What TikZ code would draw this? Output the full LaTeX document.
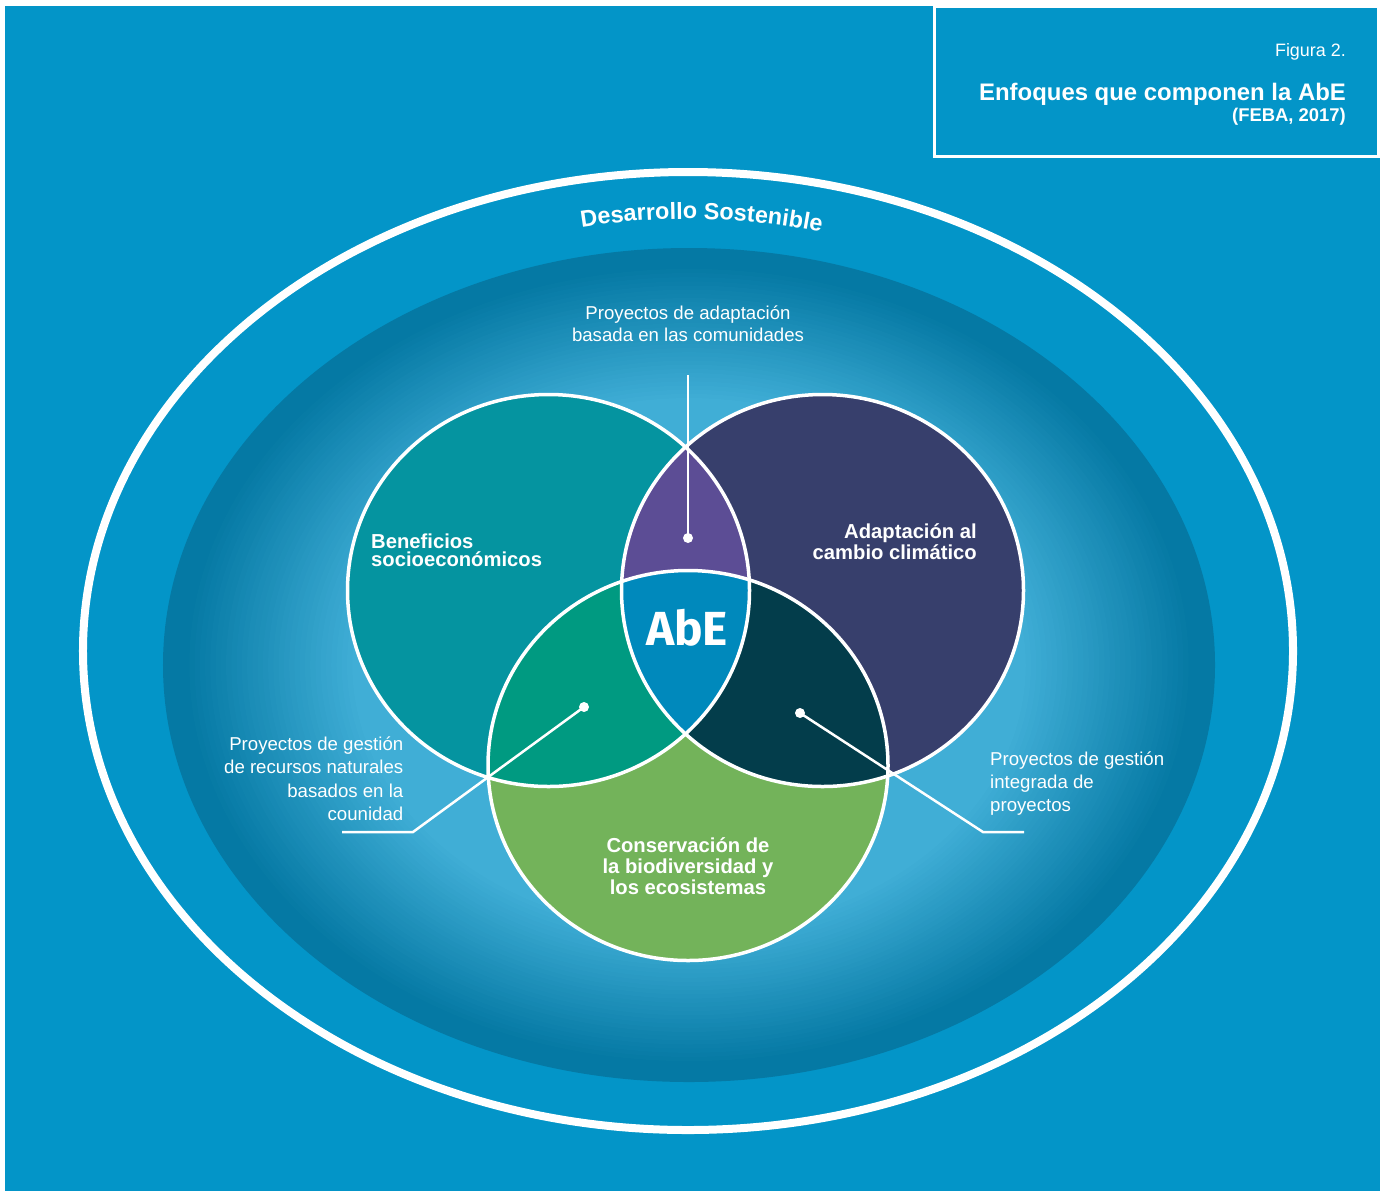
\documentclass[tikz,border=0pt]{standalone}
\usepackage{fontspec}
\setmainfont{Liberation Sans}
\newfontfamily\abefont{Fira Sans}
\usetikzlibrary{decorations.text}
\definecolor{bgblue}{RGB}{3,149,200}
\definecolor{darkring}{RGB}{5,121,164}
\definecolor{lightring}{RGB}{64,174,214}
\definecolor{socioC}{RGB}{5,148,160}
\definecolor{climaC}{RGB}{55,63,108}
\definecolor{bioC}{RGB}{115,179,90}
\definecolor{scC}{RGB}{92,77,149}
\definecolor{sbC}{RGB}{0,154,129}
\definecolor{cbC}{RGB}{3,61,75}
\definecolor{abeC}{RGB}{0,137,188}
\newcommand\fsz[2]{\fontsize{#1}{#2}\selectfont}
\newcommand\mlc[1]{\vtop{\lineskiplimit=-100pt\halign{\hfil##\hfil\cr#1\crcr}}}
\newcommand\mlr[1]{\vtop{\lineskiplimit=-100pt\halign{\hfil##\cr#1\crcr}}}
\newcommand\mll[1]{\vtop{\lineskiplimit=-100pt\halign{##\hfil\cr#1\crcr}}}
\begin{document}
\begin{tikzpicture}[x=1bp,y=-1bp,
  lbl/.style={text=white, inner sep=0pt},
  leader/.style={draw=white, line width=2.5bp},
  vennedge/.style={draw=white, line width=3.5bp},
  dotmark/.style={fill=white}]
\useasboundingbox (0,0) rectangle (1387,1191);
\fill[white] (0,0) rectangle (1387,1191);
\fill[bgblue] (5,6) rectangle (1380,1191);
% title box
\node[draw=white, line width=3bp, minimum width=444bp, minimum height=150bp, inner sep=0pt] (titlebox) at (1156,81) {};
\node[lbl, anchor=base east, font=\fsz{18}{18}] (fig) at (1346,56) {Figura 2.};
\node[lbl, anchor=base east, font=\bfseries\fsz{24}{24}] (title) at (1346,100) {Enfoques que componen la AbE};
\node[lbl, anchor=base east, font=\bfseries\fsz{18.5}{18.5}] (cite) at (1346,121.5) {(FEBA, 2017)};
% graded inner ellipse
\foreach \k in {0,...,45}{
  \pgfmathsetmacro\f{1-0.01*\k}
  \pgfmathtruncatemacro\p{max(0,min(100,(\k-4)*100/32))}
  \pgfmathsetmacro\rx{526*\f}
  \pgfmathsetmacro\ry{417*\f}
  \fill[lightring!\p!darkring] (689,665) ellipse[x radius=\rx bp, y radius=\ry bp];
}
% outer white ellipse
\draw[white, line width=8bp] (688,651) ellipse[x radius=605bp, y radius=479bp];
% curved title
\path[decorate, decoration={text along path, text color=white, text align=center,
   text={|\bfseries\fsz{23.5}{23.5}|Desarrollo Sostenible}}]
   (688,651) ++(120:545bp and 432bp) arc[start angle=120, end angle=57, x radius=545bp, y radius=432bp];
% venn
\coordinate (cL) at (548.5,590.5);
\coordinate (cR) at (822.5,590.5);
\coordinate (cB) at (688,765.5);
\fill[socioC] (cL) ellipse[x radius=201bp, y radius=196bp];
\fill[climaC] (cR) ellipse[x radius=201bp, y radius=196bp];
\fill[bioC] (cB) ellipse[x radius=200bp, y radius=195bp];
\begin{scope}
  \clip (cL) ellipse[x radius=201bp, y radius=196bp];
  \fill[scC] (cR) ellipse[x radius=201bp, y radius=196bp];
  \fill[sbC] (cB) ellipse[x radius=200bp, y radius=195bp];
\end{scope}
\begin{scope}
  \clip (cR) ellipse[x radius=201bp, y radius=196bp];
  \fill[cbC] (cB) ellipse[x radius=200bp, y radius=195bp];
\end{scope}
\begin{scope}
  \clip (cL) ellipse[x radius=201bp, y radius=196bp];
  \clip (cR) ellipse[x radius=201bp, y radius=196bp];
  \fill[abeC] (cB) ellipse[x radius=200bp, y radius=195bp];
\end{scope}
\draw[vennedge] (cL) ellipse[x radius=201bp, y radius=196bp];
\draw[vennedge] (cR) ellipse[x radius=201bp, y radius=196bp];
\draw[vennedge] (cB) ellipse[x radius=200bp, y radius=195bp];
% leaders
\coordinate (topEnd) at (688,375);
\coordinate (dotT) at (688,538);
\coordinate (dotL) at (584,707);
\coordinate (bendL) at (413,832);
\coordinate (endL) at (342,832);
\coordinate (dotR) at (800,713);
\coordinate (bendR) at (983,832);
\coordinate (endR) at (1024,832);
\draw[leader] (topEnd) -- (dotT);
\draw[leader] (dotL) -- (bendL) -- (endL);
\draw[leader] (dotR) -- (bendR) -- (endR);
\fill[dotmark] (dotT) circle[radius=5bp];
\fill[dotmark] (dotL) circle[radius=5bp];
\fill[dotmark] (dotR) circle[radius=5bp];
% labels
\node[lbl, anchor=base, font=\fsz{18.7}{22.5}] (lblTop) at (688,319.5) {\mlc{Proyectos de adaptación\cr basada en las comunidades}};
\node[lbl, anchor=base east, font=\fsz{18.7}{23.3}] (lblLeft) at (403.5,750.7) {\mlr{Proyectos de gestión\cr de recursos naturales\cr basados en la\cr counidad}};
\node[lbl, anchor=base west, font=\fsz{18.7}{23}] (lblRight) at (990,765.7) {\mll{Proyectos de gestión\cr integrada de\cr proyectos}};
\node[lbl, anchor=base west, font=\bfseries\fsz{20.3}{18.4}] (socio) at (371,548.3) {\mll{Beneficios\cr socioeconómicos}};
\node[lbl, anchor=base east, font=\bfseries\fsz{20.3}{21}] (clima) at (977,538.3) {\mlr{Adaptación al\cr cambio climático}};
\node[lbl, anchor=base, font=\bfseries\fsz{20.3}{21}] (bio) at (688,852.7) {\mlc{Conservación de\cr la biodiversidad y\cr los ecosistemas}};
\node[lbl, anchor=base, font=\abefont\bfseries\fsz{48}{48}] (abe) at (687,645) {AbE};
\end{tikzpicture}
\end{document}
